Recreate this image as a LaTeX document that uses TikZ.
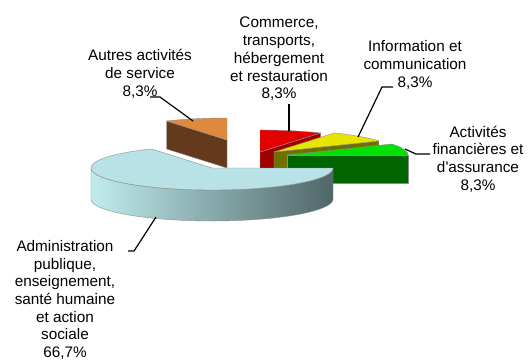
\documentclass[tikz,border=0pt]{standalone}
\usepackage{fontspec}
\setmainfont{Liberation Sans}
\definecolor{bluetop}{RGB}{184,226,230}
\definecolor{blueL}{RGB}{192,236,238}
\definecolor{blueM}{RGB}{168,214,216}
\definecolor{blueR}{RGB}{80,102,104}
\definecolor{orangetop}{RGB}{224,138,64}
\definecolor{brownside}{RGB}{99,58,28}
\definecolor{redtop}{RGB}{226,0,0}
\definecolor{redside}{RGB}{160,0,0}
\definecolor{yellowtop}{RGB}{230,230,0}
\definecolor{olive}{RGB}{112,112,0}
\definecolor{greentop}{RGB}{0,226,0}
\definecolor{greenside}{RGB}{0,100,0}
\tikzset{
  lbl/.style={font=\fontsize{15.3}{17.7}\selectfont, align=center, text=black, inner sep=0pt},
  leader/.style={draw=black, line width=1.2pt, line join=round},
  pieedge/.style={draw=black!45, line width=0.4pt, line join=round},
}
\def\RX{121}
\def\RY{22}
\begin{document}
\begin{tikzpicture}[x=1pt,y=-1pt]
\useasboundingbox (0,0) rectangle (529,360);
\fill[white] (0,0) rectangle (529,360);

% ---- brown slice (Autres activites) 90..120
\filldraw[brownside,pieedge] (227,140) -- ({227+\RX*cos(120)},{140-\RY*sin(120)}) -- ({227+\RX*cos(120)},{168-\RY*sin(120)}) -- (227,168) -- cycle;
\filldraw[fill=orangetop,pieedge] (227,140) -- plot[domain=90:120,samples=20,variable=\t] ({227+\RX*cos(\t)},{140-\RY*sin(\t)}) -- cycle;

% ---- red slice (Commerce) 60..90
\filldraw[fill=redside,pieedge] (260,152) -- ({260+\RX*cos(60)},{152-\RY*sin(60)}) -- ({260+\RX*cos(60)},{182-\RY*sin(60)}) -- (260,182) -- cycle;
\filldraw[fill=redtop,pieedge] (260,152) -- plot[domain=60:90,samples=20,variable=\t] ({260+\RX*cos(\t)},{152-\RY*sin(\t)}) -- cycle;

% ---- yellow slice (Information) 30..60
\filldraw[fill=olive,pieedge] (274,152) -- ({274+\RX*cos(30)},{152-\RY*sin(30)}) -- ({274+\RX*cos(30)},{182-\RY*sin(30)}) -- (274,182) -- cycle;
\filldraw[fill=yellowtop,pieedge] (274,152) -- plot[domain=30:60,samples=20,variable=\t] ({274+\RX*cos(\t)},{152-\RY*sin(\t)}) -- cycle;

% ---- green slice (Activites financieres) 0..30
\filldraw[fill=greenside,pieedge] (287,155) -- (408,155) -- (408,183) -- (287,183) -- cycle;
\filldraw[fill=greentop,pieedge] (287,155) -- plot[domain=0:30,samples=20,variable=\t] ({287+\RX*cos(\t)},{155-\RY*sin(\t)}) -- cycle;

% ---- big blue slice (Administration) 120..360
\shade[left color=blueL, middle color=blueM, right color=blueR]
  plot[domain=180:360,samples=80,variable=\t] ({212+\RX*cos(\t)},{168-\RY*sin(\t)})
  -- plot[domain=360:180,samples=80,variable=\t] ({212+\RX*cos(\t)},{199-\RY*sin(\t)}) -- cycle;
\draw[pieedge]
  plot[domain=180:360,samples=80,variable=\t] ({212+\RX*cos(\t)},{168-\RY*sin(\t)})
  -- plot[domain=360:180,samples=80,variable=\t] ({212+\RX*cos(\t)},{199-\RY*sin(\t)}) -- cycle;
\filldraw[fill=bluetop,pieedge] (212,168) -- plot[domain=120:360,samples=100,variable=\t] ({212+\RX*cos(\t)},{168-\RY*sin(\t)}) -- cycle;

% ---- labels
\node[lbl] (lAutres) at (140,74) {Autres activités\\de service\\8,3\%};
\node[lbl] (lCommerce) at (279,59) {Commerce,\\transports,\\hébergement\\et restauration\\8,3\%};
\node[lbl] (lInfo) at (415,65) {Information et\\communication\\8,3\%};
\node[lbl] (lFin) at (478,159) {Activités\\financières et\\d\textquotesingle assurance\\8,3\%};
\node[lbl] (lAdmin) at (65,300) {Administration\\publique,\\enseignement,\\santé humaine\\et action\\sociale\\66,7\%};

% ---- leader lines
\coordinate (a1) at (150,97); \coordinate (a2) at (160,97); \coordinate (a3) at (193,121);
\draw[leader] (a1) -- (a2) -- (a3);
\coordinate (b1) at (289,104); \coordinate (b2) at (289,131);
\draw[leader] (b1) -- (b2);
\coordinate (c1) at (393,87); \coordinate (c2) at (382,87); \coordinate (c3) at (358,137);
\draw[leader] (c1) -- (c2) -- (c3);
\coordinate (d1) at (430,154); \coordinate (d2) at (416,154); \coordinate (d3) at (405,149);
\draw[leader] (d1) -- (d2) -- (d3);
\coordinate (e1) at (128,251); \coordinate (e2) at (134,251); \coordinate (e3) at (156,217);
\draw[leader] (e1) -- (e2) -- (e3);
\end{tikzpicture}
\end{document}
